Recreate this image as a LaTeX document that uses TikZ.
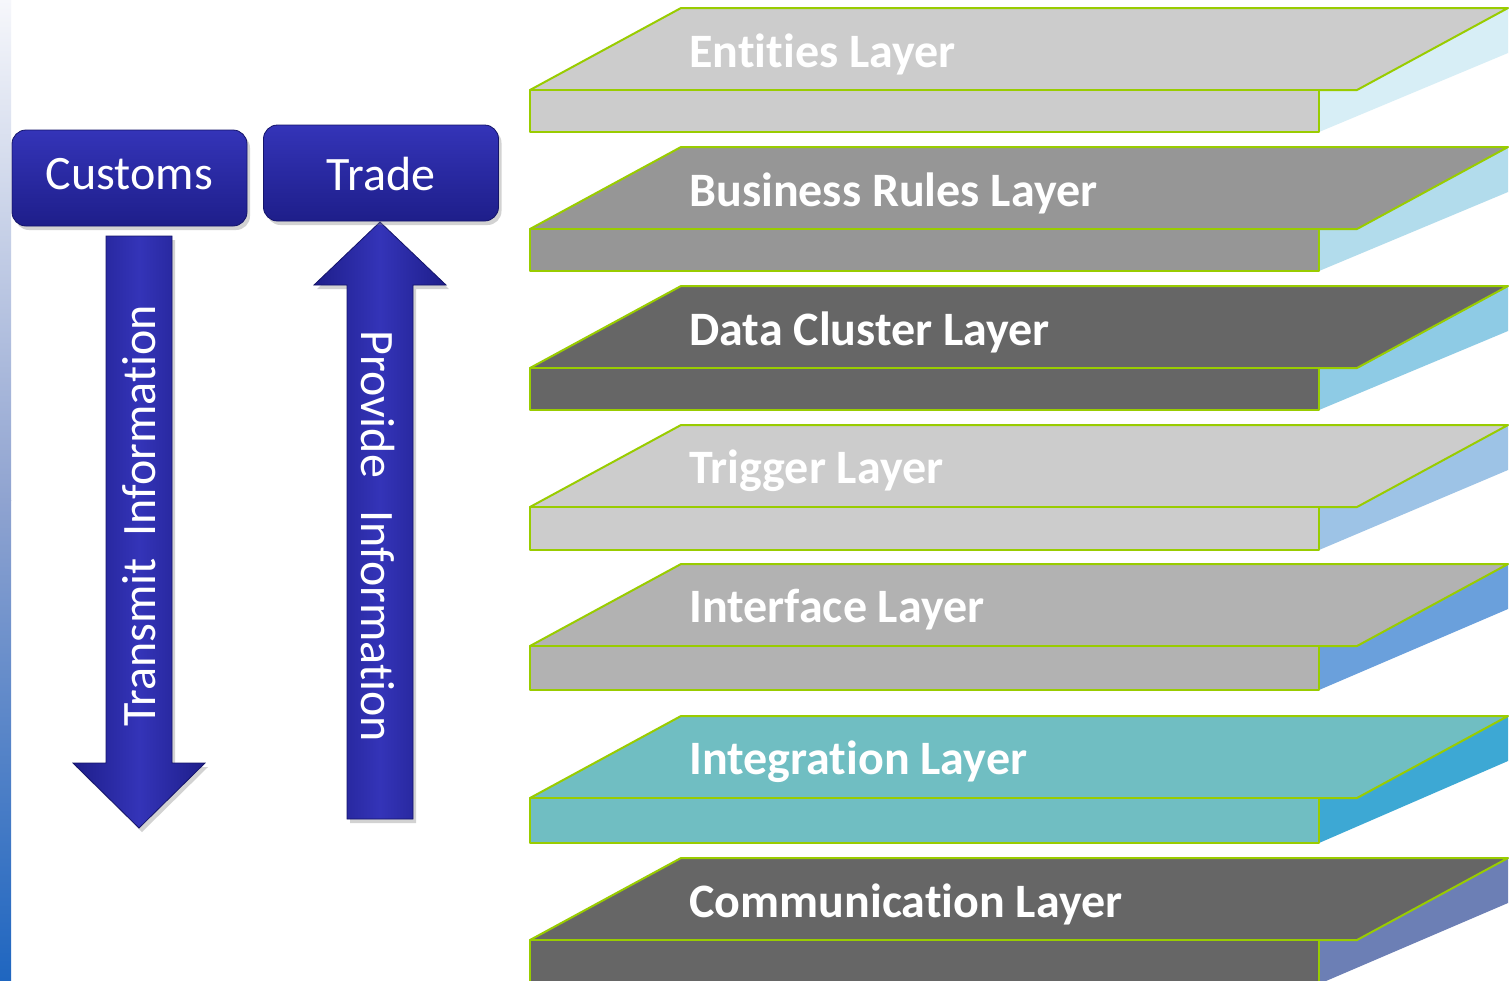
\documentclass[tikz,border=0pt]{standalone}
\usepackage{fontspec}
\setmainfont[Ligatures=NoCommon]{Carlito}
\usetikzlibrary{shadows}
\definecolor{edgegreen}{HTML}{99CC00}
\definecolor{boxtop}{HTML}{3434B8}
\definecolor{boxbot}{HTML}{1E1E8A}
\definecolor{boxedge}{HTML}{14146A}
\definecolor{gA}{HTML}{CCCCCC}
\definecolor{gB}{HTML}{969696}
\definecolor{gC}{HTML}{666666}
\definecolor{gD}{HTML}{B2B2B2}
\definecolor{gE}{HTML}{70BEC2}
\definecolor{sA}{HTML}{D7EEF6}
\definecolor{sB}{HTML}{B2DCEC}
\definecolor{sC}{HTML}{8ECBE5}
\definecolor{sD}{HTML}{9DC3E6}
\definecolor{sE}{HTML}{6AA0DC}
\definecolor{sF}{HTML}{3DA8D4}
\definecolor{sG}{HTML}{6C7FB5}
\definecolor{stripT}{HTML}{F6F7FB}
\definecolor{stripM}{HTML}{8FA3D0}
\definecolor{stripB}{HTML}{1F66C0}
\tikzset{
  face/.style={draw=edgegreen, line width=1pt, line join=round},
  layertext/.style={anchor=west, text=white, font=\fontsize{24}{28}\selectfont\bfseries, inner sep=0pt},
  bluebox/.style={rectangle, rounded corners=7pt, draw=boxedge, line width=0.4pt,
     top color=boxtop, bottom color=boxbot,
     minimum width=117.5pt, minimum height=48pt,
     drop shadow={opacity=0.35, shadow xshift=1.5pt, shadow yshift=-2pt}},
  boxtext/.style={text=white, font=\fontsize{24}{28}\selectfont, inner sep=0pt},
  bluearrow/.style={draw=boxedge, line width=0.4pt, left color=boxbot, right color=boxbot, middle color=boxtop,
     drop shadow={opacity=0.35, shadow xshift=1.5pt, shadow yshift=-2pt}},
  arrowtext/.style={text=white, font=\fontsize{24}{28}\selectfont, inner sep=0pt}
}
% #1 top y, #2 front bottom offset, #3 face colour, #4 side colour, #5 text, #6 name
\newcommand{\layerslab}[6]{%
  \fill[#4] (1319,#1+82) -- (1508,#1) -- (1508,#1+45) -- (1319,#1+#2) -- cycle;
  \draw[face, fill=#3] (530,#1+82) -- (681,#1) -- (1508,#1) -- (1357,#1+82) -- cycle;
  \draw[face, fill=#3] (530,#1+82) rectangle (1319,#1+#2);
  \node[layertext] (#6) at (689,#1+46) {#5};
}
\begin{document}
\begin{tikzpicture}[x=0.5pt, y=-0.5pt]
\useasboundingbox (0,0) rectangle (1510,980);
\fill[white] (0,0) rectangle (1510,980);
% left strip
\shade[top color=stripT, bottom color=stripM] (0,0) rectangle (11,500);
\shade[top color=stripM, bottom color=stripB] (0,500) rectangle (11,980);

% slabs
\layerslab{8}{124}{gA}{sA}{Entities Layer}{entities}
\layerslab{147}{124}{gB}{sB}{Business Rules Layer}{business}
\layerslab{286}{124}{gC}{sC}{Data Cluster Layer}{datacluster}
\layerslab{425}{125}{gA}{sD}{Trigger Layer}{trigger}
\layerslab{564}{126}{gD}{sE}{Interface Layer}{interface}
\layerslab{716}{127}{gE}{sF}{Integration Layer}{integration}
\layerslab{858}{126}{gC}{sG}{Communication Layer}{communication}

% arrows
\path[bluearrow] (106,236) -- (172,236) -- (172,763) -- (205,763) -- (139,828) -- (73,763) -- (106,763) -- cycle;
\path[bluearrow] (347,819) -- (413,819) -- (413,285) -- (446,285) -- (380,222) -- (314,285) -- (347,285) -- cycle;
\node[arrowtext, rotate=90] (transmit) at (139,516) {Transmit\ \ Information};
\node[arrowtext, rotate=-90] (provide) at (378,536) {Provide\ \ \ Information};

% boxes
\node[bluebox] (customs) at (129.5,178) {};
\node[boxtext] (customslabel) at (129.5,174) {Customs};
\node[bluebox] (trade) at (381,173) {};
\node[boxtext] (tradelabel) at (381,174) {Trade};
\end{tikzpicture}
\end{document}
